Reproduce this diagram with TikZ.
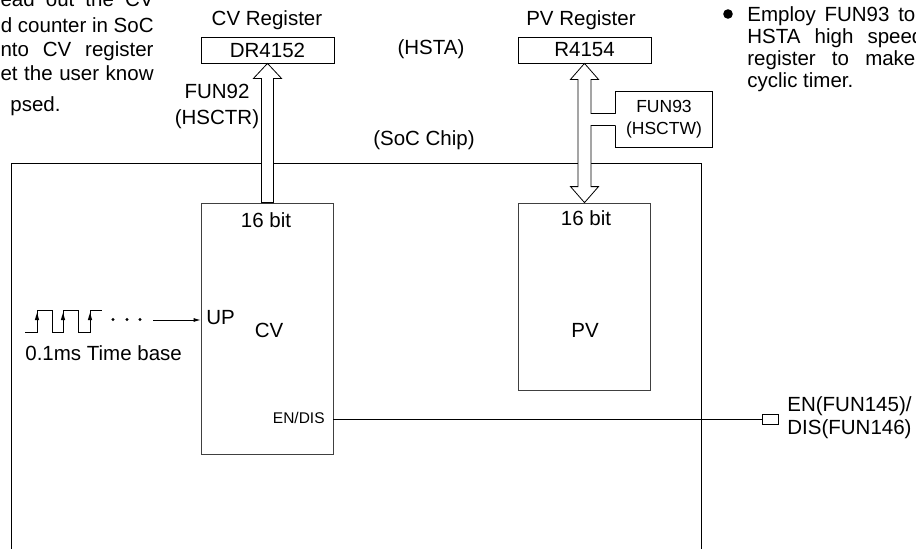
\documentclass[tikz,border=0pt]{standalone}
\usepackage{fontspec}
\setmainfont{Liberation Sans}
\usetikzlibrary{arrows.meta,calc}
\begin{document}
\begin{tikzpicture}[x=1pt,y=-1pt,line width=0.8pt,
  txt/.style={font=\fontsize{20.5}{23}\selectfont,inner sep=0pt},
  smalltxt/.style={font=\fontsize{17.5}{22}\selectfont,inner sep=0pt},
  tinytxt/.style={font=\fontsize{15.5}{18}\selectfont,inner sep=0pt},
  regbox/.style={draw,minimum width=133pt,minimum height=26pt,inner sep=0pt,font=\fontsize{20.5}{23}\selectfont},
  blockbox/.style={draw=black!75,inner sep=0pt}]
\useasboundingbox (0,0) rectangle (916,549);
% chip outline
\draw (11,552) -- (11,163) -- (701,163) -- (701,552);
% registers
\node[regbox] (cvreg) at (267.5,50) {DR4152};
\node[regbox] (pvreg) at (584.5,50) {R4154};
\node[txt] (cvlbl) at (267,20) {CV Register};
\node[txt] (pvlbl) at (581,20) {PV Register};
\node[txt] (hsta) at (431,49) {(HSTA)};
\node[txt] (soc) at (424,140) {(SoC Chip)};
% counter blocks
\node[blockbox,minimum width=132pt,minimum height=251pt] (cv) at (267,328.5) {};
\node[blockbox,minimum width=132pt,minimum height=187pt] (pv) at (584,296.5) {};
\node[txt] (cvbit) at (266,220) {16 bit};
\node[txt] (pvbit) at (586,218) {16 bit};
\node[txt] (cvname) at (269,330) {CV};
\node[txt] (pvname) at (585,330) {PV};
\node[txt,anchor=west] (up) at (206,318) {UP};
\node[tinytxt,anchor=east] (endis) at (325,418) {EN/DIS};
% FUN92 label
\node[txt,align=center,font=\fontsize{20.5}{26}\selectfont] (fun92) at (217,106) {FUN92\\(HSCTR)};
% CV arrow
\coordinate (cr) at ($(cvreg.south)+(6,0)$);
\coordinate (cl) at ($(cvreg.south)+(-6,0)$);
\draw[fill=white,line join=miter]
  (cvreg.south) -- ++(14,15) -- ++(-8,0)
  -- (cr |- cv.north) -- (cl |- cv.north)
  -- ($(cl)+(0,15)$) -- ++(-8,0) -- cycle;
% FUN93 box
\node[smalltxt,align=center,minimum width=96pt,minimum height=55pt] (fun) at (664,119.5) {FUN93\\(HSCTW)};
\coordinate (fa) at ($(fun.west)+(0,-6)$);
\coordinate (fb) at ($(fun.west)+(0,6)$);
\draw (fa) -- (fun.north west) -- (fun.north east)
  -- (fun.south east) -- (fun.south west) -- (fb);
% PV double arrow with branch
\coordinate (pr) at ($(pvreg.south)+(6.5,0)$);
\coordinate (pl) at ($(pvreg.south)+(-6.5,0)$);
\coordinate (pvb) at ($(pv.north)+(0,-16)$);
\fill[white]
  (pvreg.south) -- ++(14,16) -- ++(-7.5,0)
  -- (pr |- fa) -- (fa) -- (fb) -- (pr |- fb)
  -- (pr |- pvb) -- ++(7.5,0)
  -- (pvreg.south |- pv.north) -- ++(-14,-16) -- ++(7.5,0)
  -- ($(pl)+(0,16)$) -- ++(-7.5,0) -- cycle;
\draw[line join=miter]
  (fa) -- (pr |- fa) -- ($(pr)+(0,16)$) -- ++(7.5,0) -- (pvreg.south)
  -- ++(-14,16) -- ++(7.5,0)
  -- (pl |- pvb) -- ++(-7.5,0)
  -- (pvreg.south |- pv.north) -- ++(14,-16) -- ++(-7.5,0)
  -- (pr |- fb) -- (fb);
% clock pulses
\draw (25,332) -- (37,332) -- (37,310) -- (52,310) -- (52,332) -- (63,332) -- (63,310)
  -- (78,310) -- (78,332) -- (90,332) -- (90,310) -- (102,310);
\foreach \xx in {37,63,90}{\fill (\xx,313) -- (\xx-2.2,320) -- (\xx+2.2,320) -- cycle;}
\foreach \xx in {113,127,140}{\fill (\xx,319.5) circle (1.6);}
\coordinate (clk) at (153,320);
\draw[-{Latex[length=7pt,width=4pt]}] (clk) -- (cv.west |- clk);
\node[txt,anchor=west] (tb) at (25,353) {0.1ms Time base};
% enable line
\node[draw,minimum width=16pt,minimum height=10pt,inner sep=0pt,line width=0.6pt] (sw) at (770,419) {};
\draw (cv.east |- sw.west) -- (sw.west);
\node[txt,anchor=west,align=left] (enlbl) at (787,418) {EN(FUN145)/\\DIS(FUN146)};
% left paragraph fragments
\node[txt,anchor=base east] (l1) at (154,6) {\makebox[153pt][s]{ead out the CV}};
\node[txt,anchor=base east] (l2) at (154,32) {d counter in SoC};
\node[txt,anchor=base east] (l3) at (154,56) {\makebox[153pt][s]{nto CV register}};
\node[txt,anchor=base east] (l4) at (154,80) {\makebox[153pt][s]{et the user know}};
\node[txt,anchor=base west] (l5) at (10,111) {psed.};
% right paragraph
\fill (728,14) circle (4.8);
\node[txt,anchor=base west] (r1) at (747,21) {\makebox[168pt][s]{Employ FUN93 to}};
\node[txt,anchor=base west] (r2) at (747,43) {\makebox[176pt][s]{HSTA high speed}};
\node[txt,anchor=base west] (r3) at (747,65) {\makebox[168pt][s]{register to make}};
\node[txt,anchor=base west] (r4) at (747,87) {cyclic timer.};
\end{tikzpicture}
\end{document}
